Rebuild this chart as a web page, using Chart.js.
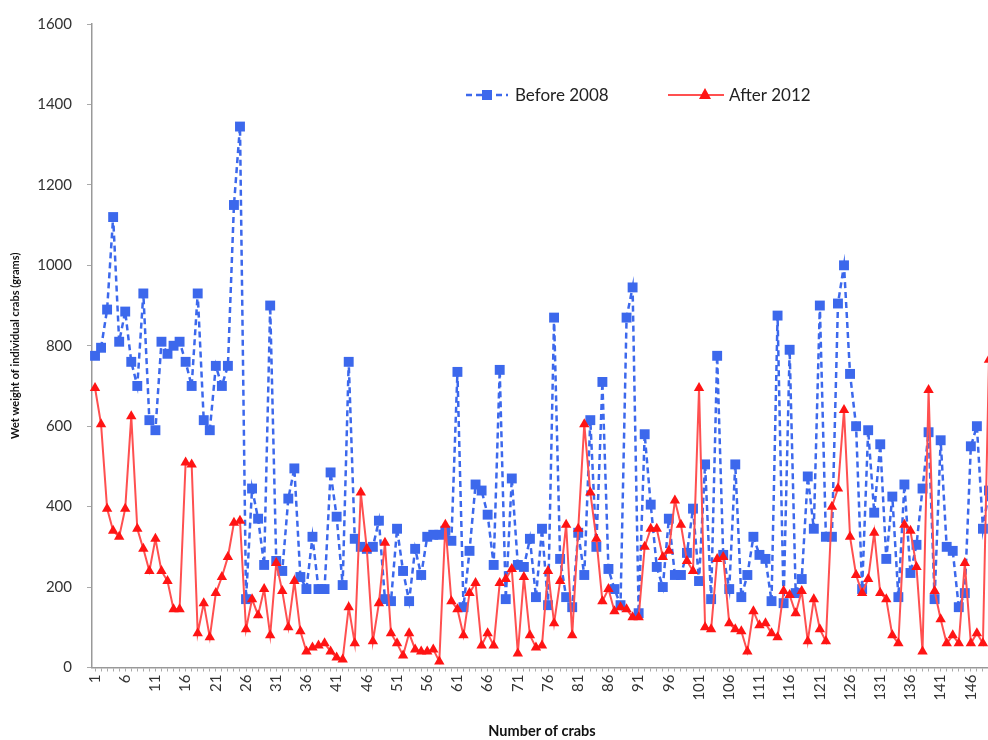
<!DOCTYPE html>
<html>
<head>
<meta charset="utf-8">
<script src="https://cdn.jsdelivr.net/npm/chart.js@4.4.1/dist/chart.umd.min.js"></script>
<style>
  html, body { margin: 0; padding: 0; background: #fff; overflow: hidden; }
  #wrap { position: relative; width: 1010px; height: 740px; }
</style>
</head>
<body>
<div id="wrap"><canvas id="crabChart" width="1010" height="740"></canvas></div>
<script>
// wet weight (grams) of each crab
const before2008 = [
  775, 795, 890, 1120, 810, 885, 760, 700, 930, 615,
  590, 810, 780, 800, 810, 760, 700, 930, 615, 590,
  750, 700, 750, 1150, 1345, 170, 445, 370, 255, 900,
  265, 240, 420, 495, 225, 195, 325, 195, 195, 485,
  375, 205, 760, 320, 300, 295, 300, 365, 170, 165,
  345, 240, 165, 295, 230, 325, 330, 330, 340, 315,
  735, 150, 290, 455, 440, 380, 255, 740, 170, 470,
  255, 250, 320, 175, 345, 155, 870, 270, 175, 150,
  335, 230, 615, 300, 710, 245, 195, 155, 870, 945,
  135, 580, 405, 250, 200, 370, 230, 230, 285, 395,
  215, 505, 170, 775, 280, 195, 505, 175, 230, 325,
  280, 270, 165, 875, 160, 790, 185, 220, 475, 345,
  900, 325, 325, 905, 1000, 730, 600, 195, 590, 385,
  555, 270, 425, 175, 455, 235, 305, 445, 585, 170,
  565, 300, 290, 150, 185, 550, 600, 345, 440
];
const after2012 = [
  695, 605, 395, 340, 325, 395, 625, 345, 295, 240,
  320, 240, 215, 145, 145, 510, 505, 85, 160, 75,
  185, 225, 275, 360, 365, 95, 170, 130, 195, 80,
  260, 190, 100, 215, 90, 40, 50, 55, 60, 40,
  25, 20, 150, 60, 435, 295, 65, 160, 310, 85,
  60, 30, 85, 45, 40, 40, 45, 15, 355, 165,
  145, 80, 185, 210, 55, 85, 55, 210, 220, 245,
  35, 225, 80, 50, 55, 240, 110, 215, 355, 80,
  345, 605, 435, 320, 165, 195, 140, 150, 145, 125,
  125, 300, 345, 345, 275, 290, 415, 355, 265, 240,
  695, 100, 95, 270, 275, 110, 95, 90, 40, 140,
  105, 110, 85, 75, 190, 180, 135, 190, 65, 170,
  95, 65, 400, 445, 640, 325, 230, 185, 220, 335,
  185, 170, 80, 60, 355, 340, 250, 40, 690, 190,
  120, 60, 80, 60, 260, 60, 85, 60, 765
];
const crabNumbers = before2008.map((v, i) => String(i + 1));
const seriesNames = ['Before 2008', 'After 2012'];

const blue = 'rgb(60,104,236)';
const redLine = 'rgb(255,80,80)';
const redMark = 'rgb(255,20,20)';

// legend drawn inside the plot, like the original
const insideLegend = {
  id: 'insideLegend',
  afterDraw(chart) {
    const ctx = chart.ctx;
    ctx.save();
    // blue entry
    ctx.strokeStyle = blue;
    ctx.lineWidth = 2.5;
    ctx.setLineDash([6, 4]);
    ctx.beginPath();
    ctx.moveTo(466, 95);
    ctx.lineTo(508, 95);
    ctx.stroke();
    ctx.setLineDash([]);
    ctx.fillStyle = blue;
    ctx.fillRect(482, 90, 10, 10);
    // red entry
    ctx.strokeStyle = redLine;
    ctx.lineWidth = 2;
    ctx.beginPath();
    ctx.moveTo(668, 95);
    ctx.lineTo(724, 95);
    ctx.stroke();
    ctx.fillStyle = redMark;
    ctx.beginPath();
    ctx.moveTo(705, 88);
    ctx.lineTo(711, 99);
    ctx.lineTo(699, 99);
    ctx.closePath();
    ctx.fill();
    ctx.fillStyle = '#222';
    ctx.font = '17px Lato';
    ctx.textBaseline = 'middle';
    ctx.fillText(seriesNames[0], 515, 96);
    ctx.fillText(seriesNames[1], 729, 96);
    ctx.restore();
  }
};

const ctx = document.getElementById('crabChart').getContext('2d');
new Chart(ctx, {
  type: 'line',
  data: {
    labels: crabNumbers,
    datasets: [
      {
        label: seriesNames[0],
        data: before2008,
        borderColor: blue,
        backgroundColor: blue,
        borderWidth: 2.5,
        borderDash: [6, 4],
        pointStyle: 'rect',
        pointRadius: 7,
        pointBorderWidth: 0,
        tension: 0,
        order: 1
      },
      {
        label: seriesNames[1],
        data: after2012,
        borderColor: redLine,
        backgroundColor: redMark,
        borderWidth: 2,
        pointStyle: 'triangle',
        pointRadius: 6,
        pointBorderWidth: 0,
        tension: 0,
        order: 0
      }
    ]
  },
  options: {
    responsive: false,
    animation: false,
    clip: false,
    layout: { padding: { left: 9, right: 8, top: 12, bottom: 0 } },
    plugins: {
      legend: { display: false },
      tooltip: { enabled: false }
    },
    scales: {
      x: {
        offset: true,
        grid: { drawOnChartArea: false, drawTicks: true, tickLength: 4, color: '#aaa', offset: false },
        border: { color: '#999', width: 1.5 },
        ticks: {
          autoSkip: false,
          minRotation: 90,
          maxRotation: 90,
          padding: 3,
          color: '#333',
          font: { family: 'Lato', size: 15 },
          callback: function(value, index) {
            return index % 5 === 0 ? this.getLabelForValue(value) : '';
          }
        },
        title: {
          display: true,
          text: 'Number of crabs',
          color: '#111',
          font: { family: 'Lato', size: 14.5, weight: 'bold' },
          padding: { top: 19, bottom: 0 }
        }
      },
      y: {
        min: 0,
        max: 1600,
        grid: { drawOnChartArea: false, drawTicks: true, tickLength: 5, color: '#aaa' },
        border: { color: '#999', width: 1.5 },
        ticks: {
          stepSize: 200,
          padding: 15,
          color: '#333',
          font: { family: 'Lato', size: 15 },
          callback: value => String(value)
        },
        title: {
          display: true,
          text: 'Wet weight of individual crabs (grams)',
          color: '#111',
          font: { family: 'Lato', size: 11, weight: 'bold' },
          padding: { top: 0, bottom: 0 }
        }
      }
    }
  },
  plugins: [insideLegend]
});
</script>
</body>
</html>
